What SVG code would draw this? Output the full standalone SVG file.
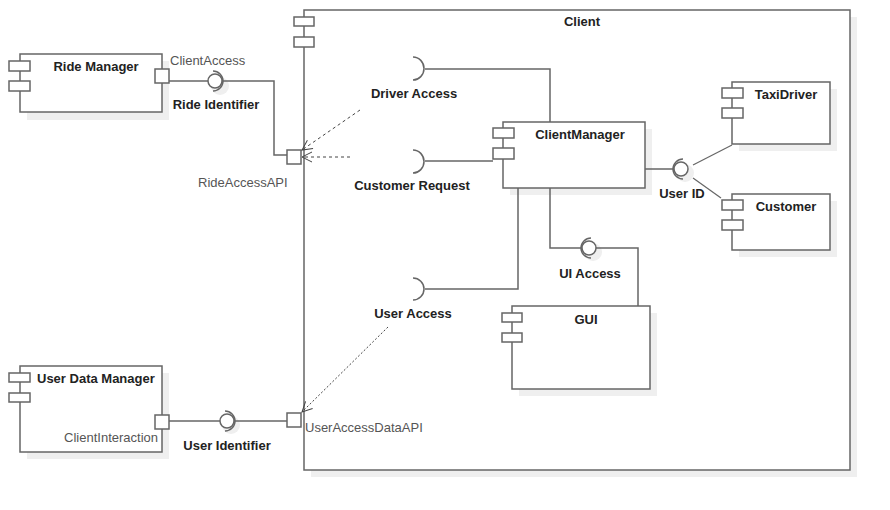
<svg xmlns="http://www.w3.org/2000/svg" width="890" height="510" viewBox="0 0 890 510">
<defs>
<style>
.sh{fill:#efefef;stroke:none}
.box{fill:#fff;stroke:#666;stroke-width:1.5}
.ln{fill:none;stroke:#666;stroke-width:1.5}
.dash{fill:none;stroke:#444;stroke-width:1;stroke-dasharray:3,3}
.dot{fill:none;stroke:#444;stroke-width:1;stroke-dasharray:2,2}
.b{font-family:"Liberation Sans",Arial,sans-serif;font-size:13px;font-weight:bold;fill:#222}
.n{font-family:"Liberation Sans",Arial,sans-serif;font-size:13px;fill:#555}
</style>
<marker id="open" viewBox="0 0 12 12" refX="11" refY="6" markerWidth="12" markerHeight="12" markerUnits="userSpaceOnUse" orient="auto">
<path d="M1,1 L11,6 L1,11" fill="none" stroke="#444" stroke-width="1"/>
</marker>
</defs>
<rect width="890" height="510" fill="#fff"/>

<g id="client">
<rect class="sh" x="311" y="17" width="546" height="460"/>
<rect class="box" x="304" y="10" width="546" height="460"/>
<rect class="box" x="294" y="17" width="20" height="9"/>
<rect class="box" x="294" y="37" width="20" height="10"/>
<text class="b" x="582" y="26" text-anchor="middle">Client</text>
</g>

<g id="ride-manager">
<rect class="sh" x="27" y="61" width="142" height="59"/>
<rect class="box" x="20" y="54" width="142" height="58"/>
<rect class="box" x="9" y="61" width="21" height="10"/>
<rect class="box" x="9" y="81" width="21" height="10"/>
<text class="b" x="96" y="71" text-anchor="middle">Ride Manager</text>
<rect class="box" x="155" y="69" width="14" height="14"/>
<text class="n" x="170" y="65">ClientAccess</text>
</g>

<g id="ride-identifier">
<circle class="sh" cx="220" cy="86" r="9"/>
<circle class="box" cx="215" cy="81" r="7"/>
<path class="ln" d="M213,71 A10,10 0 0 1 213,91"/>
<text class="b" x="216" y="109" text-anchor="middle">Ride Identifier</text>
</g>

<g id="ride-access-api">
<rect class="box" x="287" y="150" width="14" height="14"/>
<text class="n" x="198" y="187">RideAccessAPI</text>
</g>

<g id="driver-access">
<path class="ln" d="M413,57 A11,11.5 0 0 1 413,80"/>
<text class="b" x="414" y="98" text-anchor="middle">Driver Access</text>
</g>

<g id="customer-request">
<path class="ln" d="M413,150 A11,11.5 0 0 1 413,173"/>
<text class="b" x="412" y="190" text-anchor="middle">Customer Request</text>
</g>

<g id="client-manager">
<rect class="sh" x="510" y="129" width="142" height="66"/>
<rect class="box" x="503" y="122" width="142" height="66"/>
<rect class="box" x="493" y="128" width="21" height="10"/>
<rect class="box" x="493" y="148" width="21" height="11"/>
<text class="b" x="580" y="139" text-anchor="middle">ClientManager</text>
</g>

<g id="user-id">
<circle class="sh" cx="685" cy="173" r="9"/>
<circle class="box" cx="681" cy="169" r="7"/>
<path class="ln" d="M683,159 A10,10 0 0 0 683,179"/>
<text class="b" x="682" y="198" text-anchor="middle">User ID</text>
</g>

<g id="taxi-driver">
<rect class="sh" x="739" y="89" width="98" height="62"/>
<rect class="box" x="732" y="82" width="98" height="62"/>
<rect class="box" x="722" y="88" width="21" height="10"/>
<rect class="box" x="722" y="108" width="21" height="10"/>
<text class="b" x="786" y="99" text-anchor="middle">TaxiDriver</text>
</g>

<g id="customer">
<rect class="sh" x="739" y="201" width="98" height="56"/>
<rect class="box" x="732" y="194" width="98" height="56"/>
<rect class="box" x="722" y="200" width="21" height="10"/>
<rect class="box" x="722" y="220" width="21" height="10"/>
<text class="b" x="786" y="211" text-anchor="middle">Customer</text>
</g>

<g id="ui-access">
<circle class="sh" cx="593" cy="252" r="9"/>
<circle class="box" cx="589" cy="248" r="7"/>
<path class="ln" d="M591,238 A10,10 0 0 0 591,258"/>
<text class="b" x="590" y="278" text-anchor="middle">UI Access</text>
</g>

<g id="user-access">
<path class="ln" d="M413,278 A11,11 0 0 1 413,300"/>
<text class="b" x="413" y="318" text-anchor="middle">User Access</text>
</g>

<g id="gui">
<rect class="sh" x="519" y="313" width="138" height="83"/>
<rect class="box" x="512" y="306" width="138" height="83"/>
<rect class="box" x="502" y="313" width="20" height="9"/>
<rect class="box" x="502" y="333" width="20" height="9"/>
<text class="b" x="586" y="324" text-anchor="middle">GUI</text>
</g>

<g id="user-data-manager">
<rect class="sh" x="27" y="373" width="142" height="86"/>
<rect class="box" x="20" y="366" width="142" height="86"/>
<rect class="box" x="9" y="373" width="21" height="9"/>
<rect class="box" x="9" y="393" width="21" height="9"/>
<text class="b" x="37" y="383">User Data Manager</text>
<rect class="box" x="155" y="415" width="14" height="14"/>
<text class="n" x="158" y="442" text-anchor="end">ClientInteraction</text>
</g>

<g id="user-identifier">
<circle class="sh" cx="231" cy="425" r="9"/>
<circle class="box" cx="227" cy="421" r="7"/>
<path class="ln" d="M225,411 A10,10 0 0 1 225,431"/>
<text class="b" x="227" y="450" text-anchor="middle">User Identifier</text>
</g>

<g id="user-access-data-api">
<rect class="box" x="287" y="413" width="14" height="14"/>
<text class="n" x="305" y="432">UserAccessDataAPI</text>
</g>

<g id="connectors">
<path class="ln" d="M169,81 H208"/>
<path class="ln" d="M222,81 H274 V155 H287"/>
<path class="ln" d="M425,69 H550 V122"/>
<path class="ln" d="M425,161 H493"/>
<path class="ln" d="M645,169 H674"/>
<path class="ln" d="M693,165 L732,145" style="stroke-width:1.2"/>
<path class="ln" d="M693,178 L721,198" style="stroke-width:1.2"/>
<path class="ln" d="M550,188 V248 H582"/>
<path class="ln" d="M596,248 H638 V306"/>
<path class="ln" d="M518,188 V289 H425"/>
<path class="ln" d="M169,421 H220"/>
<path class="ln" d="M234,421 H287"/>
<path class="dash" d="M360,110 L302,150" marker-end="url(#open)"/>
<path class="dash" d="M350,157 L302,157" marker-end="url(#open)"/>
<path class="dot" d="M388,327 L302,412" marker-end="url(#open)"/>
</g>
</svg>
